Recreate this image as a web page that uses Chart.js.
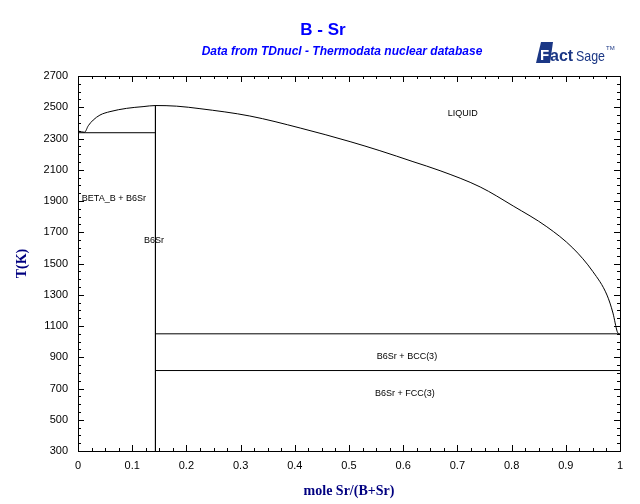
<!DOCTYPE html>
<html>
<head>
<meta charset="utf-8">
<script src="https://cdn.jsdelivr.net/npm/chart.js@4"></script>
<style>
  html, body { margin: 0; padding: 0; background: #fff; }
  #wrap { width: 640px; height: 504px; }
</style>
</head>
<body>
<div id="wrap"><canvas id="chart" width="640" height="504"></canvas></div>
<script>
// liquidus (mole fraction Sr, T in K)
const liquidusX = [0, 0.012, 0.019, 0.028, 0.0405, 0.059, 0.0897, 0.120, 0.1429, 0.182, 0.225, 0.317, 0.410, 0.502, 0.557, 0.618, 0.668, 0.742, 0.803, 0.865, 0.913, 0.950, 0.976, 0.987, 0.995, 0.998];
const liquidusT = [2348, 2340, 2382, 2418, 2450, 2472, 2493, 2504, 2511, 2507, 2491, 2444, 2367, 2280, 2222, 2152, 2094, 1990, 1868, 1735, 1599, 1448, 1298, 1183, 1063, 1050];

// invariant lines
const eutecticX = [0, 0.1429];
const eutecticT = [2337, 2337];
const b6srX = [0.1429, 0.1429];
const b6srT = [2511, 300];
const srMeltX = [0.1429, 1];
const srMeltT = [1050, 1050];
const srTransX = [0.1429, 1];
const srTransT = [815, 815];

// phase field labels
const phaseNames = ['LIQUID', 'BETA_B + B6Sr', 'B6Sr', 'B6Sr + BCC(3)', 'B6Sr + FCC(3)'];
const phaseX = [0.710, 0.007, 0.140, 0.607, 0.603];
const phaseT = [2457, 1919, 1644, 902, 671];
const phaseAlign = ['center', 'left', 'center', 'center', 'center'];

const xMin = 0, xMax = 1, yMin = 300, yMax = 2700;

function pts(xs, ys) {
    return xs.map((x, i) => ({ x: x, y: ys[i] }));
}

function line(xs, ys, smooth) {
    return {
        data: pts(xs, ys),
        showLine: true,
        borderColor: '#000',
        borderWidth: 1,
        pointRadius: 0,
        cubicInterpolationMode: smooth ? 'monotone' : 'default',
        tension: 0
    };
}

// frame, inward ticks, labels, titles, logo
const decor = {
    id: 'decor',
    afterDatasetsDraw(chart) {
        const ctx = chart.ctx;
        const a = chart.chartArea;
        const xs = chart.scales.x, ys = chart.scales.y;
        ctx.save();
        ctx.strokeStyle = '#000';
        ctx.lineWidth = 1;
        ctx.strokeRect(Math.round(a.left) + 0.5, Math.round(a.top) + 0.5, Math.round(a.right - a.left), Math.round(a.bottom - a.top));

        ctx.beginPath();
        for (let i = 0; i <= 40; i++) {
            const px = Math.round(xs.getPixelForValue(i * 0.025)) + 0.5;
            const len = i % 4 === 0 ? 6 : 3;
            ctx.moveTo(px, a.bottom); ctx.lineTo(px, a.bottom - len);
            ctx.moveTo(px, a.top); ctx.lineTo(px, a.top + len);
        }
        for (let v = yMin; v <= yMax; v += 50) {
            const py = Math.round(ys.getPixelForValue(v)) + 0.5;
            const len = (v - yMin) % 200 === 0 ? 6 : 3;
            ctx.moveTo(a.left, py); ctx.lineTo(a.left + len, py);
            ctx.moveTo(a.right, py); ctx.lineTo(a.right - len, py);
        }
        ctx.stroke();

        ctx.fillStyle = '#000';
        ctx.font = '9px "Liberation Sans", Arial, sans-serif';
        ctx.textBaseline = 'middle';
        phaseNames.forEach((name, i) => {
            ctx.textAlign = phaseAlign[i];
            ctx.fillText(name, xs.getPixelForValue(phaseX[i]), ys.getPixelForValue(phaseT[i]));
        });

        // titles
        ctx.fillStyle = '#0000ff';
        ctx.textAlign = 'center';
        ctx.font = 'bold 17px "Liberation Sans", Arial, sans-serif';
        ctx.fillText('B - Sr', 323, 30);
        ctx.font = 'italic bold 12px "Liberation Sans", Arial, sans-serif';
        ctx.fillText('Data from TDnucl - Thermodata nuclear database', 342, 52);

        // FactSage logo
        const navy = '#1b3785';
        ctx.fillStyle = navy;
        ctx.beginPath();
        ctx.moveTo(541, 42); ctx.lineTo(553, 42); ctx.lineTo(550, 63);
        ctx.lineTo(536, 63); ctx.closePath();
        ctx.fill();
        ctx.fillStyle = '#fff';
        ctx.textAlign = 'left';
        ctx.textBaseline = 'alphabetic';
        ctx.font = 'bold 15px "Liberation Sans", Arial, sans-serif';
        ctx.fillText('F', 540, 60);
        ctx.fillStyle = navy;
        ctx.font = 'bold 16px "Liberation Sans", Arial, sans-serif';
        ctx.fillText('act', 550, 61, 26);
        ctx.font = '15px "Liberation Sans", Arial, sans-serif';
        ctx.fillText('Sage', 576, 61, 29);
        ctx.font = '6px "Liberation Sans", Arial, sans-serif';
        ctx.fillText('TM', 606, 50);
        ctx.restore();
    }
};

const ctx = document.getElementById('chart').getContext('2d');
const chart = new Chart(ctx, {
    type: 'scatter',
    data: {
        datasets: [
            line(liquidusX, liquidusT, true),
            line(eutecticX, eutecticT),
            line(b6srX, b6srT),
            line(srMeltX, srMeltT),
            line(srTransX, srTransT)
        ]
    },
    options: {
        responsive: false,
        animation: false,
        layout: { padding: { left: 0, right: 20, top: 76, bottom: 0 } },
        plugins: {
            legend: { display: false },
            tooltip: { enabled: false }
        },
        scales: {
            x: {
                type: 'linear',
                min: xMin, max: xMax,
                grid: { display: false, drawTicks: false },
                border: { display: false },
                ticks: {
                    stepSize: 0.1,
                    padding: 8,
                    color: '#000',
                    font: { family: '"Liberation Sans", Arial, sans-serif', size: 11 },
                    callback: v => String(+v.toFixed(1))
                },
                title: {
                    display: true,
                    text: 'mole Sr/(B+Sr)',
                    color: '#000080',
                    font: { family: '"Liberation Serif", "Times New Roman", serif', size: 14, weight: 'bold' },
                    padding: { top: 10, bottom: 4 }
                },
                afterFit(scale) { scale.height = 53; }
            },
            y: {
                type: 'linear',
                min: yMin, max: yMax,
                grid: { display: false, drawTicks: false },
                border: { display: false },
                ticks: {
                    stepSize: 200,
                    padding: 10,
                    color: '#000',
                    font: { family: '"Liberation Sans", Arial, sans-serif', size: 11 },
                    callback: v => String(v)
                },
                title: {
                    display: true,
                    text: 'T(K)',
                    color: '#000080',
                    font: { family: '"Liberation Serif", "Times New Roman", serif', size: 14, weight: 'bold' },
                    padding: { top: 14, bottom: 0 }
                },
                afterFit(scale) { scale.width = 78; }
            }
        }
    },
    plugins: [decor]
});
</script>
</body>
</html>
